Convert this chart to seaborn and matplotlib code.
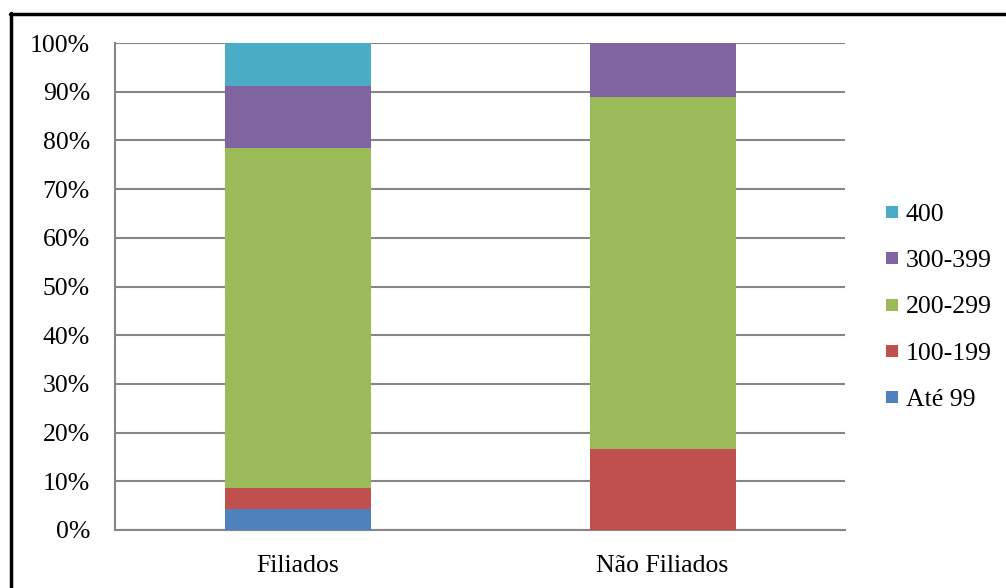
import matplotlib
matplotlib.use("Agg")
import matplotlib.pyplot as plt
from matplotlib.lines import Line2D
import numpy as np
import pandas as pd
import seaborn as sns

# Share of each income band within each group (percent)
groups = ["Filiados", "Não Filiados"]
bands = ["Até 99", "100-199", "200-299", "300-399", "400"]
ate_99 = [4.3, 0.0]
b100_199 = [4.3, 16.6]
b200_299 = [69.8, 72.4]
b300_399 = [12.8, 11.0]
b400 = [8.8, 0.0]
yticks = [0, 10, 20, 30, 40, 50, 60, 70, 80, 90, 100]
ytick_labels = [f"{v}%" for v in yticks]

colors = {
    "Até 99": "#4F81BD",
    "100-199": "#C0504D",
    "200-299": "#9BBB59",
    "300-399": "#8064A2",
    "400": "#4BACC6",
}

sns.set_theme(style="white")
plt.rcParams["font.family"] = ["Liberation Serif", "DejaVu Serif"]
plt.rcParams["text.color"] = "black"

FS = 18.5

values = np.array([ate_99, b100_199, b200_299, b300_399, b400])
cum = values.cumsum(axis=0)
df = pd.DataFrame(cum.T, columns=bands)
df["grupo"] = groups

fig = plt.figure(figsize=(10.06, 5.88), dpi=100)
W, H = 1006, 588
ax = fig.add_axes([115 / W, (H - 530) / H, 730 / W, 487 / H])

# Stacked bars: draw cumulative totals from the top band down
for band in reversed(bands):
    sns.barplot(data=df, x="grupo", y=band, color=colors[band], width=0.4,
                saturation=1, ax=ax, zorder=3, linewidth=0)

ax.set_xlim(-0.5, 1.5)
ax.set_ylim(0, 100)
ax.set_yticks(yticks)
ax.set_yticklabels(ytick_labels, fontsize=FS, color="black")
ax.set_xlabel("")
ax.set_ylabel("")
ax.tick_params(axis="x", length=0, labelsize=FS, labelcolor="black", pad=18)
ax.tick_params(axis="y", length=8, width=1.5, color="#868686", pad=10,
               labelcolor="black")
ax.set_xticks([-0.5, 0.5, 1.5], minor=True)
ax.tick_params(axis="x", which="minor", length=8, width=1.5, color="#868686")

ax.grid(axis="y", color="#868686", linewidth=1.5, zorder=0)
ax.set_axisbelow(True)
for side in ["top", "right"]:
    ax.spines[side].set_visible(False)
for side in ["left", "bottom"]:
    ax.spines[side].set_color("#868686")
    ax.spines[side].set_linewidth(1.5)

handles = [Line2D([0], [0], marker="s", linestyle="none", markersize=8,
                  markerfacecolor=colors[b], markeredgewidth=0, label=b)
           for b in reversed(bands)]
leg = fig.legend(handles=handles, loc="center left",
                 bbox_to_anchor=(884 / W, (H - 307) / H), frameon=False,
                 fontsize=FS, handlelength=0.6, handletextpad=0.25,
                 labelspacing=0.9, borderpad=0, borderaxespad=0)
for t in leg.get_texts():
    t.set_color("black")

# Outer frame (top and left edges)
fig.add_artist(Line2D([10 / W, 1.0], [(H - 14) / H, (H - 14) / H],
                      color="black", linewidth=2.5, transform=fig.transFigure))
fig.add_artist(Line2D([11 / W, 11 / W], [0, (H - 13) / H],
                      color="black", linewidth=2.5, transform=fig.transFigure))

fig.savefig("out.png", dpi=100, facecolor="white")
